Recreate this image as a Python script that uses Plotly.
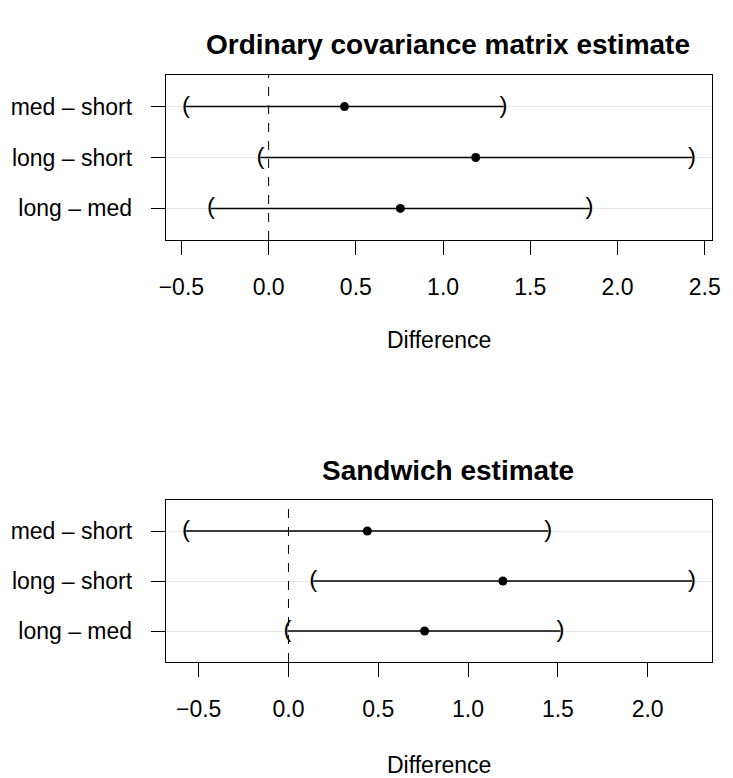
import plotly.graph_objects as go

# ---- data ----
comparisons = ["long – med", "long – short", "med – short"]
titles = ["Ordinary covariance matrix estimate", "Sandwich estimate"]

ord_est = [0.755, 1.187, 0.435]
ord_lwr = [-0.330, -0.047, -0.474]
ord_upr = [1.840, 2.427, 1.347]

sw_est = [0.758, 1.194, 0.439]
sw_lwr = [-0.005, 0.138, -0.571]
sw_upr = [1.515, 2.247, 1.446]

ord_ticks = [-0.5, 0.0, 0.5, 1.0, 1.5, 2.0, 2.5]
sw_ticks = [-0.5, 0.0, 0.5, 1.0, 1.5, 2.0]

W, H = 733, 778
FONT = "Liberation Sans, Arial, Helvetica, sans-serif"
FS = 23

fig = go.Figure()

panels = [
    dict(est=ord_est, lwr=ord_lwr, upr=ord_upr, ticks=ord_ticks, xa="x", ya="y",
         box=(75, 240), title=titles[0], ttl_y=45, lab_y=340),
    dict(est=sw_est, lwr=sw_lwr, upr=sw_upr, ticks=sw_ticks, xa="x2", ya="y2",
         box=(500, 662), title=titles[1], ttl_y=470, lab_y=765),
]

for i, p in enumerate(panels):
    ypos = [1, 2, 3]
    for k in range(3):
        fig.add_trace(go.Scatter(x=[p["lwr"][k], p["upr"][k]], y=[ypos[k], ypos[k]],
                                 mode="lines", line=dict(color="black", width=1.4),
                                 xaxis=p["xa"], yaxis=p["ya"], showlegend=False, hoverinfo="skip"))
    fig.add_trace(go.Scatter(x=p["lwr"], y=ypos, mode="text", text=["("] * 3,
                             textposition="middle center",
                             textfont=dict(family=FONT, size=24, color="black"),
                             xaxis=p["xa"], yaxis=p["ya"], showlegend=False, hoverinfo="skip"))
    fig.add_trace(go.Scatter(x=p["upr"], y=ypos, mode="text", text=[")"] * 3,
                             textposition="middle center",
                             textfont=dict(family=FONT, size=24, color="black"),
                             xaxis=p["xa"], yaxis=p["ya"], showlegend=False, hoverinfo="skip"))
    fig.add_trace(go.Scatter(x=p["est"], y=ypos, mode="markers",
                             marker=dict(color="black", size=9),
                             xaxis=p["xa"], yaxis=p["ya"], showlegend=False))
    fig.add_shape(type="line", x0=0, x1=0, y0=0, y1=1, xref=p["xa"],
                  yref=p["ya"] + " domain", line=dict(color="black", width=1, dash="dash"))

    lo = min(p["lwr"]); hi = max(p["upr"])
    ext = 0.04 * (hi - lo)
    xr = [lo - ext, hi + ext]
    top, bot = p["box"]
    xkey = "xaxis" if i == 0 else "xaxis2"
    ykey = "yaxis" if i == 0 else "yaxis2"
    fig.layout[xkey] = dict(
        domain=[162 / W, 720 / W], range=xr, anchor=p["ya"],
        tickvals=p["ticks"], tickformat=".1f",
        ticks="outside", ticklen=14, tickcolor="black", tickwidth=1,
        showline=True, linecolor="black", linewidth=1, mirror=True,
        showgrid=False, zeroline=False,
        tickfont=dict(family=FONT, size=FS, color="black"),
        ticklabelstandoff=12,
    )
    fig.layout[ykey] = dict(
        domain=[1 - bot / H, 1 - top / H], range=[0.38, 3.62], anchor=p["xa"],
        tickvals=ypos, ticktext=comparisons,
        ticks="outside", ticklen=14, tickcolor="black", tickwidth=1,
        showline=True, linecolor="black", linewidth=1, mirror=True,
        showgrid=True, gridcolor="#e6e6e6", gridwidth=1, zeroline=False,
        tickfont=dict(family=FONT, size=FS, color="black"),
        ticklabelstandoff=14,
    )
    fig.add_annotation(text="<b>" + p["title"] + "</b>", x=450 / W, y=1 - p["ttl_y"] / H,
                       xref="paper", yref="paper", showarrow=False,
                       font=dict(family=FONT, size=28, color="black"),
                       xanchor="center", yanchor="middle")
    fig.add_annotation(text="Difference", x=441 / W, y=1 - p["lab_y"] / H,
                       xref="paper", yref="paper", showarrow=False,
                       font=dict(family=FONT, size=FS, color="black"),
                       xanchor="center", yanchor="middle")

fig.update_layout(width=W, height=H, margin=dict(l=0, r=0, t=0, b=0),
                  plot_bgcolor="white", paper_bgcolor="white")

fig.write_html("out.html")
